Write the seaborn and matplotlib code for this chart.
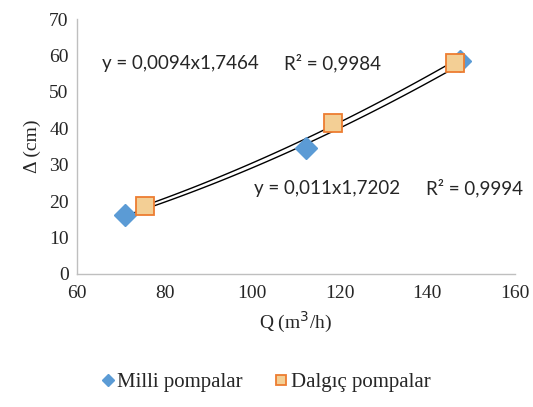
import numpy as np
import pandas as pd
import matplotlib
matplotlib.use('Agg')
import matplotlib.pyplot as plt
import seaborn as sns

# Datos
milli_q = [71.0, 112.3, 147.4]
milli_d = [16.2, 34.6, 58.5]
dalgic_q = [75.5, 118.4, 146.3]
dalgic_d = [18.7, 41.4, 57.9]

eq_milli = 'y = 0,0094x1,7464'
r2_milli = 'R² = 0,9984'
eq_dalgic = 'y = 0,011x1,7202'
r2_dalgic = 'R² = 0,9994'

sns.set_style('white')
plt.rcParams['font.family'] = ['Liberation Serif', 'DejaVu Serif']

fig = plt.figure(figsize=(5.33, 4.07), dpi=100)
ax = fig.add_axes([0.1445, 0.3268, 0.8215, 0.6265])


def power_fit(x, y):
    # línea de tendencia potencial (ajuste en log-log)
    b, a = np.polyfit(np.log(x), np.log(y), 1)
    xs = np.linspace(min(x), max(x), 100)
    return pd.DataFrame({'Q': xs, 'D': np.exp(a) * xs ** b})


sns.lineplot(data=power_fit(milli_q, milli_d), x='Q', y='D', ax=ax, color='black', lw=1.0)
sns.lineplot(data=power_fit(dalgic_q, dalgic_d), x='Q', y='D', ax=ax, color='black', lw=1.0)

ax.plot(milli_q, milli_d, ls='none', marker='D', ms=11, color='#5B9BD5',
        mec='#5B9BD5', label='Milli pompalar', zorder=3)
ax.plot(dalgic_q, dalgic_d, ls='none', marker='s', ms=13, color='#F3CF95',
        mec='#ED7D31', mew=1.3, label='Dalgıç pompalar', zorder=4)

lab_font = dict(family=['Lato', 'DejaVu Sans'], fontsize=13.5, va='center')
ax.text(65.7, 57.9, eq_milli, **lab_font)
ax.text(107.3, 57.9, r2_milli, **lab_font)
ax.text(100.4, 23.6, eq_dalgic, **lab_font)
ax.text(139.7, 23.6, r2_dalgic, **lab_font)

ax.set_xlim(60, 160)
ax.set_ylim(0, 70)
ax.set_xticks(range(60, 161, 20))
ax.set_yticks(range(0, 71, 10))
ax.tick_params(length=0, labelsize=14, pad=8)
ax.tick_params(axis='y', pad=6)
ax.set_xlabel('Q (m$^3$/h)', fontsize=14, labelpad=6)
ax.set_ylabel('Δ (cm)', fontsize=14, labelpad=6)

for s in ['top', 'right']:
    ax.spines[s].set_visible(False)
for s in ['left', 'bottom']:
    ax.spines[s].set_color('#BFBFBF')
    ax.spines[s].set_linewidth(1.0)

ax.legend(loc='center', bbox_to_anchor=(0.5, 0.06), bbox_transform=fig.transFigure,
          ncol=2, frameon=False, fontsize=15, handlelength=0.5, handletextpad=0.2,
          columnspacing=1.6, markerscale=0.55)

fig.savefig('out.png', dpi=100)
